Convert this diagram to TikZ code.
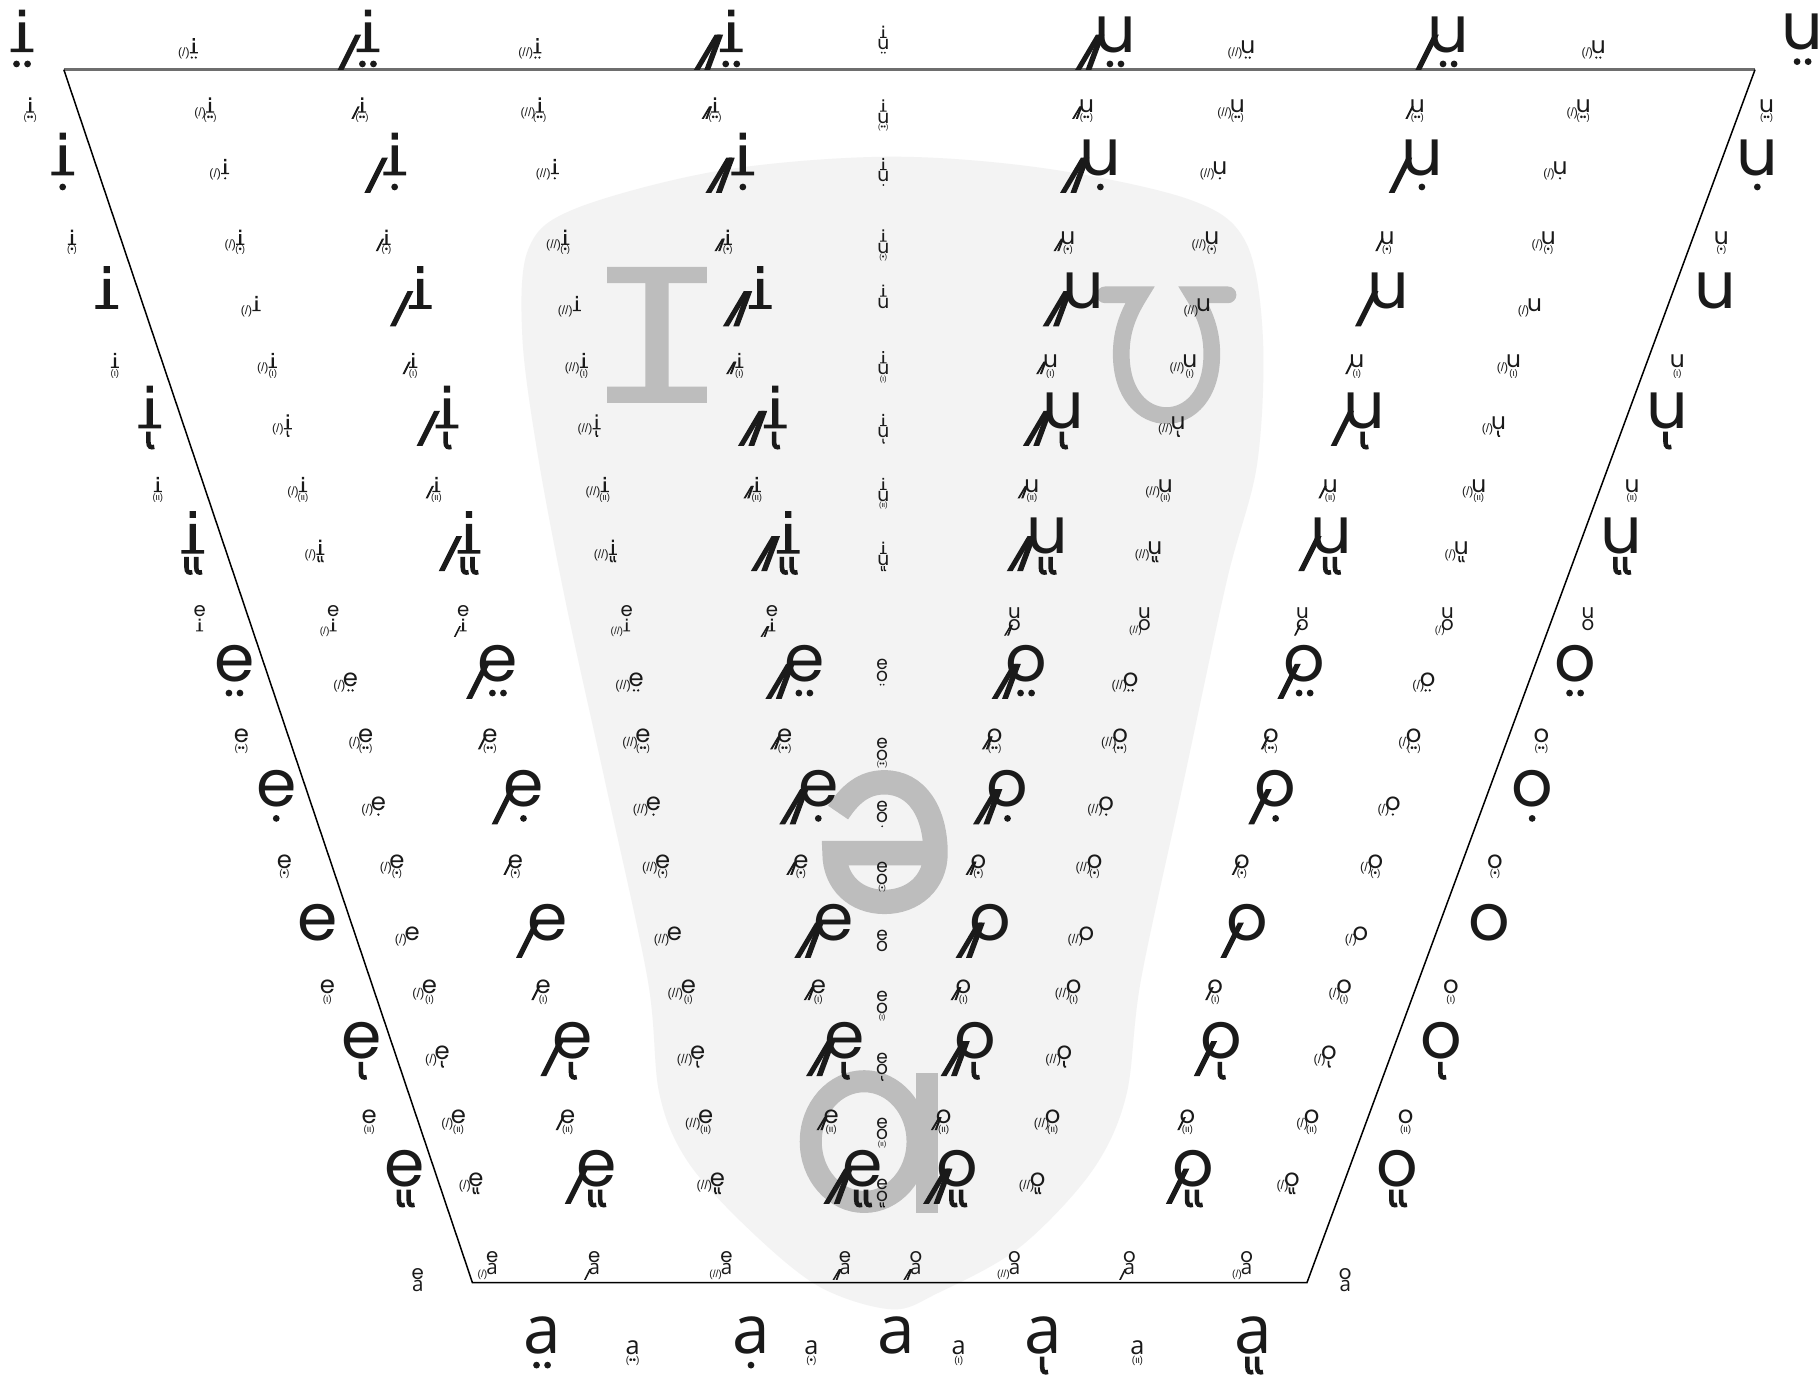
\documentclass[tikz,border=0pt]{standalone}
\usepackage{fontspec}
\newfontfamily\vxlfont{Poppins}
\newfontfamily\vxafont{Open Sans}
\newfontfamily\vxpfont{Liberation Sans}
\definecolor{ink}{HTML}{1A1A1A}
\definecolor{blobc}{HTML}{F3F3F3}
\definecolor{glyc}{HTML}{BDBDBD}
\definecolor{topl}{HTML}{6E6E6E}
\tikzset{
  lt/.style={anchor=base,inner sep=0pt,font={\vxlfont\fontsize{10}{12}\selectfont}},
  aletter/.style={anchor=base,inner sep=0pt,font={\vxafont\fontsize{10.4}{12}\selectfont}},
  pt/.style={inner sep=0pt,font={\vxpfont\fontsize{5.2}{6}\selectfont}},
  mt/.style={inner sep=0pt,anchor=north,font={\vxpfont\fontsize{4.1}{5}\selectfont}}
}
% letters
\newcommand\vxLi{\def\vxhw{0.175}\def\vxdl{-0.02}\fill (-0.175,0) rectangle (0.175,0.055) (-0.048,0) rectangle (0.048,0.46) (-0.048,0.55) rectangle (0.048,0.655);}
\newcommand\vxLu{\def\vxhw{0.24}\def\vxdl{0}\node[lt] at (0,0) {u};}
\newcommand\vxLe{\def\vxhw{0.26}\def\vxdl{0.04}\node[lt] at (0,0) {e};}
\newcommand\vxLo{\def\vxhw{0.27}\def\vxdl{0.12}\node[lt] at (0,0) {o};}
\newcommand\vxLa{\def\vxhw{0.25}\def\vxdl{0}\node[aletter] at (0,0) {a};}
\def\vxHi{0.66}\def\vxHu{0.52}\def\vxHe{0.52}\def\vxHo{0.52}\def\vxHa{0.52}
% prefixes
\newcommand\vxstroke[2]{\fill ({-\vxhw+\vxdl+(#1)},-0.27) -- ++(0.09,0) -- ({-\vxhw+\vxdl+(#2)+0.09},0.27) -- ++(-0.09,0) -- cycle;}
\newcommand\vxPn{}
\newcommand\vxPs{\vxstroke{-0.27}{0}}
\newcommand\vxPd{\vxstroke{-0.38}{-0.06}\vxstroke{-0.22}{-0.02}}
\newcommand\vxPS{\node[pt,anchor=base east] at ({-\vxhw+\vxdl+0.03},-0.15) {(/)};}
\newcommand\vxPD{\node[pt,anchor=base east] at ({-\vxhw+\vxdl+0.03},-0.15) {(//)};}
% marks
\newcommand\vxhook[1]{\draw[line width=\vxcs*0.7pt] ({#1-0.02},-0.05) -- ({#1-0.02},-0.21) .. controls ({#1-0.02},-0.29) and ({#1+0.02},-0.30) .. ({#1+0.07},-0.285);}
\newcommand\vxMn{}
\newcommand\vxMb{\fill (-0.085,-0.18) circle[radius=0.052] (0.085,-0.18) circle[radius=0.052];}
\newcommand\vxMc{\fill (0,-0.18) circle[radius=0.052];}
\newcommand\vxMd{\vxhook{0}}
\newcommand\vxMe{\vxhook{-0.075}\vxhook{0.075}}
\newcommand\vxMB{\node[mt] at (0,-0.03) {(••)};}
\newcommand\vxMC{\node[mt] at (0,-0.03) {(•)};}
\newcommand\vxMD{\node[mt] at (0,-0.03) {(ι)};}
\newcommand\vxME{\node[mt] at (0,-0.03) {(ιι)};}
% items
\newcommand\Vi[6]{\begin{scope}[shift={(#1,#2)},x=10pt,y=10pt,scale=#3,transform shape]\def\vxcs{#3}\csname vxL#5\endcsname\csname vxP#4\endcsname\csname vxM#6\endcsname\end{scope}}
\newcommand\Vs[7]{\begin{scope}[shift={(#1,#2)},x=10pt,y=10pt,scale=#3,transform shape]\def\vxcs{#3}\begin{scope}[shift={(0,\csname vxH#6\endcsname+0.1)}]\csname vxL#5\endcsname\end{scope}\csname vxL#6\endcsname\csname vxP#4\endcsname\csname vxM#7\endcsname\end{scope}}
\def\BL{2.8}\def\SI{1.0}\def\SE{1.05}\def\TS{0.8}\def\JS{0.85}
\begin{document}
\begin{tikzpicture}[x=0.5pt,y=-0.5pt]
\fill[white] (0,0) rectangle (1568,1191);
\useasboundingbox (0,0) rectangle (1568,1191);
% background blob
\fill[blobc] plot[smooth cycle, tension=0.55] coordinates {(450,290) (455,215) (495,180) (620,147) (765,135) (900,145) (1025,172) (1073,208) (1088,290) (1083,400) (1057,500) (1020,672) (983,844) (970,945) (940,1010) (878,1075) (808,1114) (768,1128) (705,1108) (643,1057) (592,1000) (568,942) (558,844) (521,672) (487,517) (463,390)};
% gray IPA glyphs
\fill[glyc] (523,230) -- (609,230) -- (609,244) -- (576,244) -- (576,333) -- (609,333) -- (609,347) -- (523,347) -- (523,333) -- (556,333) -- (556,244) -- (523,244) -- cycle;
\draw[glyc,line width=7.2pt,line cap=round] (952,254) -- (982,254) .. controls (972,270) and (966,285) .. (966,305) .. controls (966,340) and (985,358) .. (1005,358) .. controls (1025,358) and (1044,340) .. (1044,305) .. controls (1044,285) and (1038,270) .. (1028,254) -- (1058,254);
\draw[glyc,line width=10.5pt] (722,700) .. controls (735,680) and (748,674) .. (762,674) .. controls (790,674) and (806,700) .. (806,735) .. controls (806,760) and (787,777) .. (762,777) .. controls (737,777) and (719,760) .. (719,735) -- (806,735);
\draw[glyc,line width=9.5pt] (744.5,983.5) ellipse [x radius=46, y radius=52];
\fill[glyc] (789,924) rectangle (808,1045);
% frame
\draw[topl,line width=1.1pt] (55,60) -- (1512,60);
\draw[black,line width=0.65pt] (55,60) -- (407,1105) -- (1126,1105) -- (1512,60);
\begin{scope}[color=ink]
% Row A
\Vi{19}{45}{\BL}{n}{i}{b}
\Vi{167}{46}{\SI}{S}{i}{b}
\Vi{317}{45}{\BL}{s}{i}{b}
\Vi{463}{46}{\SI}{D}{i}{b}
\Vi{630}{45}{\BL}{d}{i}{b}
\Vs{761}{42.5}{\TS}{n}{i}{u}{b}
\Vi{961}{45}{\BL}{d}{u}{b}
\Vi{1075}{46}{\SI}{D}{u}{b}
\Vi{1248}{45}{\BL}{s}{u}{b}
\Vi{1377}{46}{\SI}{S}{u}{b}
\Vi{1553}{43}{\BL}{n}{u}{b}
% Row B
\Vi{26}{97}{\SI}{n}{i}{B}
\Vi{181}{97}{\SI}{S}{i}{B}
\Vi{312}{97}{\SI}{s}{i}{B}
\Vi{465}{97}{\SI}{D}{i}{B}
\Vi{616}{97}{\SI}{d}{i}{B}
\Vs{761}{106}{\TS}{n}{i}{u}{B}
\Vi{936}{97}{\SI}{d}{u}{B}
\Vi{1066}{97}{\SI}{D}{u}{B}
\Vi{1221}{97}{\SI}{s}{u}{B}
\Vi{1364}{97}{\SI}{S}{u}{B}
\Vi{1522}{97}{\SI}{n}{u}{B}
% Row C
\Vi{54}{151}{\BL}{n}{i}{c}
\Vi{194}{150}{\SI}{S}{i}{c}
\Vi{340}{151}{\BL}{s}{i}{c}
\Vi{478}{150}{\SI}{D}{i}{c}
\Vi{640}{151}{\BL}{d}{i}{c}
\Vs{761}{156.5}{\TS}{n}{i}{u}{c}
\Vi{948}{151}{\BL}{d}{u}{c}
\Vi{1051}{150}{\SI}{D}{u}{c}
\Vi{1225}{151}{\BL}{s}{u}{c}
\Vi{1344}{150}{\SI}{S}{u}{c}
\Vi{1514}{151}{\BL}{n}{u}{c}
% Row D
\Vi{62}{211}{\SI}{n}{i}{C}
\Vi{207}{211}{\SI}{S}{i}{C}
\Vi{333}{211}{\SI}{s}{i}{C}
\Vi{487}{211}{\SI}{D}{i}{C}
\Vi{627}{211}{\SI}{d}{i}{C}
\Vs{761}{218}{\TS}{n}{i}{u}{C}
\Vi{920}{211}{\SI}{d}{u}{C}
\Vi{1044}{211}{\SI}{D}{u}{C}
\Vi{1195}{211}{\SI}{s}{u}{C}
\Vi{1334}{211}{\SI}{S}{u}{C}
\Vi{1483}{211}{\SI}{n}{u}{C}
% Row E
\Vi{92}{266}{\BL}{n}{i}{n}
\Vi{221}{268}{\SI}{S}{i}{n}
\Vi{362}{266}{\BL}{s}{i}{n}
\Vi{497}{268}{\SI}{D}{i}{n}
\Vi{655}{266}{\BL}{d}{i}{n}
\Vs{761}{265.5}{\TS}{n}{i}{u}{n}
\Vi{933}{266}{\BL}{d}{u}{n}
\Vi{1037}{268}{\SI}{D}{u}{n}
\Vi{1196}{266}{\BL}{s}{u}{n}
\Vi{1322}{268}{\SI}{S}{u}{n}
\Vi{1478}{266}{\BL}{n}{u}{n}
% Row F
\Vi{99}{317}{\SI}{n}{i}{D}
\Vi{235}{317}{\SI}{S}{i}{D}
\Vi{356}{317}{\SI}{s}{i}{D}
\Vi{503}{317}{\SI}{D}{i}{D}
\Vi{637}{317}{\SI}{d}{i}{D}
\Vs{761}{323}{\TS}{n}{i}{u}{D}
\Vi{905}{317}{\SI}{d}{u}{D}
\Vi{1025}{317}{\SI}{D}{u}{D}
\Vi{1169}{317}{\SI}{s}{u}{D}
\Vi{1304}{317}{\SI}{S}{u}{D}
\Vi{1445}{317}{\SI}{n}{u}{D}
% Row G
\Vi{129}{369}{\BL}{n}{i}{d}
\Vi{248}{370}{\SI}{S}{i}{d}
\Vi{385}{369}{\BL}{s}{i}{d}
\Vi{514}{370}{\SI}{D}{i}{d}
\Vi{668}{369}{\BL}{d}{i}{d}
\Vs{761}{377}{\TS}{n}{i}{u}{d}
\Vi{916}{369}{\BL}{d}{u}{d}
\Vi{1015}{370}{\SI}{D}{u}{d}
\Vi{1175}{369}{\BL}{s}{u}{d}
\Vi{1291}{370}{\SI}{S}{u}{d}
\Vi{1436}{369}{\BL}{n}{u}{d}
% Row H
\Vi{136}{424}{\SI}{n}{i}{E}
\Vi{261}{424}{\SI}{S}{i}{E}
\Vi{376}{424}{\SI}{s}{i}{E}
\Vi{521}{424}{\SI}{D}{i}{E}
\Vi{652}{424}{\SI}{d}{i}{E}
\Vs{761}{432}{\TS}{n}{i}{u}{E}
\Vi{889}{424}{\SI}{d}{u}{E}
\Vi{1004}{424}{\SI}{D}{u}{E}
\Vi{1146}{424}{\SI}{s}{u}{E}
\Vi{1274}{424}{\SI}{S}{u}{E}
\Vi{1406}{424}{\SI}{n}{u}{E}
% Row I
\Vi{166}{477}{\BL}{n}{i}{e}
\Vi{276}{478}{\SI}{S}{i}{e}
\Vi{404}{477}{\BL}{s}{i}{e}
\Vi{528}{478}{\SI}{D}{i}{e}
\Vi{679}{477}{\BL}{d}{i}{e}
\Vs{761}{487}{\TS}{n}{i}{u}{e}
\Vi{902}{477}{\BL}{d}{u}{e}
\Vi{995}{478}{\SI}{D}{u}{e}
\Vi{1147}{477}{\BL}{s}{u}{e}
\Vi{1259}{478}{\SI}{S}{u}{e}
\Vi{1397}{477}{\BL}{n}{u}{e}
% Row J
\Vs{172}{544}{\JS}{n}{e}{i}{n}
\Vs{287}{544}{\JS}{S}{e}{i}{n}
\Vs{399}{544}{\JS}{s}{e}{i}{n}
\Vs{540}{544}{\JS}{D}{e}{i}{n}
\Vs{665}{544}{\JS}{d}{e}{i}{n}
\Vs{874}{543}{\JS}{d}{u}{o}{n}
\Vs{986}{543}{\JS}{D}{u}{o}{n}
\Vs{1122}{543}{\JS}{s}{u}{o}{n}
\Vs{1247}{543}{\JS}{S}{u}{o}{n}
\Vs{1368}{543}{\JS}{n}{u}{o}{n}
% Row K
\Vi{202}{587}{\BL}{n}{e}{b}
\Vi{302}{591}{\SE}{S}{e}{b}
\Vi{429}{587}{\BL}{s}{e}{b}
\Vi{548}{591}{\SE}{D}{e}{b}
\Vi{693}{587}{\BL}{d}{e}{b}
\Vs{760}{587}{\TS}{n}{e}{o}{b}
\Vi{884}{587}{\BL}{d}{o}{b}
\Vi{974}{591}{\SE}{D}{o}{b}
\Vi{1124}{587}{\BL}{s}{o}{b}
\Vi{1230}{591}{\SE}{S}{o}{b}
\Vi{1357}{587}{\BL}{n}{o}{b}
% Row L
\Vi{208}{640}{\SE}{n}{e}{B}
\Vi{315}{640}{\SE}{S}{e}{B}
\Vi{422}{640}{\SE}{s}{e}{B}
\Vi{554}{640}{\SE}{D}{e}{B}
\Vi{676}{640}{\SE}{d}{e}{B}
\Vs{760}{655}{\TS}{n}{e}{o}{B}
\Vi{857}{640}{\SE}{d}{o}{B}
\Vi{965}{640}{\SE}{D}{o}{B}
\Vi{1095}{640}{\SE}{s}{o}{B}
\Vi{1218}{640}{\SE}{S}{o}{B}
\Vi{1328}{640}{\SE}{n}{o}{B}
% Row M
\Vi{238}{695}{\BL}{n}{e}{c}
\Vi{326}{698}{\SE}{S}{e}{c}
\Vi{451}{695}{\BL}{s}{e}{c}
\Vi{563}{698}{\SE}{D}{e}{c}
\Vi{705}{695}{\BL}{d}{e}{c}
\Vs{760}{709}{\TS}{n}{e}{o}{c}
\Vi{868}{695}{\BL}{d}{o}{c}
\Vi{953}{698}{\SE}{D}{o}{c}
\Vi{1099}{695}{\BL}{s}{o}{c}
\Vi{1200}{698}{\SE}{S}{o}{c}
\Vi{1320}{695}{\BL}{n}{o}{c}
% Row N
\Vi{245}{748}{\SE}{n}{e}{C}
\Vi{342}{748}{\SE}{S}{e}{C}
\Vi{444}{748}{\SE}{s}{e}{C}
\Vi{571}{748}{\SE}{D}{e}{C}
\Vi{690}{748}{\SE}{d}{e}{C}
\Vs{760}{762}{\TS}{n}{e}{o}{C}
\Vi{843}{748}{\SE}{d}{o}{C}
\Vi{943}{748}{\SE}{D}{o}{C}
\Vi{1070}{748}{\SE}{s}{o}{C}
\Vi{1185}{748}{\SE}{S}{o}{C}
\Vi{1288}{748}{\SE}{n}{o}{C}
% Row O
\Vi{274}{810}{\BL}{n}{e}{n}
\Vi{355}{810}{\SE}{S}{e}{n}
\Vi{472}{810}{\BL}{s}{e}{n}
\Vi{581}{810}{\SE}{D}{e}{n}
\Vi{718}{810}{\BL}{d}{e}{n}
\Vs{760}{820}{\TS}{n}{e}{o}{n}
\Vi{853}{810}{\BL}{d}{o}{n}
\Vi{936}{810}{\SE}{D}{o}{n}
\Vi{1075}{810}{\BL}{s}{o}{n}
\Vi{1172}{810}{\SE}{S}{o}{n}
\Vi{1283}{810}{\BL}{n}{o}{n}
% Row P
\Vi{282}{856}{\SE}{n}{e}{D}
\Vi{370}{856}{\SE}{S}{e}{D}
\Vi{468}{856}{\SE}{s}{e}{D}
\Vi{593}{856}{\SE}{D}{e}{D}
\Vi{705}{856}{\SE}{d}{e}{D}
\Vs{760}{873}{\TS}{n}{e}{o}{D}
\Vi{830}{856}{\SE}{d}{o}{D}
\Vi{925}{856}{\SE}{D}{o}{D}
\Vi{1047}{856}{\SE}{s}{o}{D}
\Vi{1158}{856}{\SE}{S}{o}{D}
\Vi{1250}{856}{\SE}{n}{o}{D}
% Row Q
\Vi{312}{912}{\BL}{n}{e}{d}
\Vi{381}{913}{\SE}{S}{e}{d}
\Vi{493}{912}{\BL}{s}{e}{d}
\Vi{601}{913}{\SE}{D}{e}{d}
\Vi{728}{912}{\BL}{d}{e}{d}
\Vs{760}{926}{\TS}{n}{e}{o}{d}
\Vi{840}{912}{\BL}{d}{o}{d}
\Vi{917}{913}{\SE}{D}{o}{d}
\Vi{1052}{912}{\BL}{s}{o}{d}
\Vi{1145}{913}{\SE}{S}{o}{d}
\Vi{1242}{912}{\BL}{n}{o}{d}
% Row R
\Vi{318}{968}{\SE}{n}{e}{E}
\Vi{395}{968}{\SE}{S}{e}{E}
\Vi{489}{968}{\SE}{s}{e}{E}
\Vi{608}{968}{\SE}{D}{e}{E}
\Vi{716}{968}{\SE}{d}{e}{E}
\Vs{760}{982}{\TS}{n}{e}{o}{E}
\Vi{813}{968}{\SE}{d}{o}{E}
\Vi{907}{968}{\SE}{D}{o}{E}
\Vi{1023}{968}{\SE}{s}{o}{E}
\Vi{1130}{968}{\SE}{S}{o}{E}
\Vi{1211}{968}{\SE}{n}{o}{E}
% Row S
\Vi{349}{1022}{\BL}{n}{e}{e}
\Vi{410}{1022}{\SE}{S}{e}{e}
\Vi{514}{1022}{\BL}{s}{e}{e}
\Vi{618}{1022}{\SE}{D}{e}{e}
\Vi{743}{1022}{\BL}{d}{e}{e}
\Vs{760}{1035}{\TS}{n}{e}{o}{e}
\Vi{825}{1022}{\BL}{d}{o}{e}
\Vi{894}{1022}{\SE}{D}{o}{e}
\Vi{1028}{1022}{\BL}{s}{o}{e}
\Vi{1113}{1022}{\SE}{S}{o}{e}
\Vi{1204}{1022}{\BL}{n}{o}{e}
% Row T
\Vs{360}{1113}{\JS}{n}{e}{a}{n}
\Vs{424}{1098}{\JS}{S}{e}{a}{n}
\Vs{512}{1098}{\JS}{s}{e}{a}{n}
\Vs{626}{1098}{\JS}{D}{e}{a}{n}
\Vs{728}{1098}{\JS}{d}{e}{a}{n}
\Vs{789}{1098}{\JS}{d}{o}{a}{n}
\Vs{874}{1098}{\JS}{D}{o}{a}{n}
\Vs{973}{1098}{\JS}{s}{o}{a}{n}
\Vs{1074}{1098}{\JS}{S}{o}{a}{n}
\Vs{1159}{1113}{\JS}{n}{o}{a}{n}
% Row U
\Vi{467}{1166}{\BL}{n}{a}{b}
\Vi{545}{1167}{\SE}{n}{a}{B}
\Vi{647}{1166}{\BL}{n}{a}{c}
\Vi{699}{1167}{\SE}{n}{a}{C}
\Vi{772}{1166}{\BL}{n}{a}{n}
\Vi{826}{1167}{\SE}{n}{a}{D}
\Vi{899}{1166}{\BL}{n}{a}{d}
\Vi{980}{1167}{\SE}{n}{a}{E}
\Vi{1080}{1166}{\BL}{n}{a}{e}
\end{scope}
\end{tikzpicture}
\end{document}
